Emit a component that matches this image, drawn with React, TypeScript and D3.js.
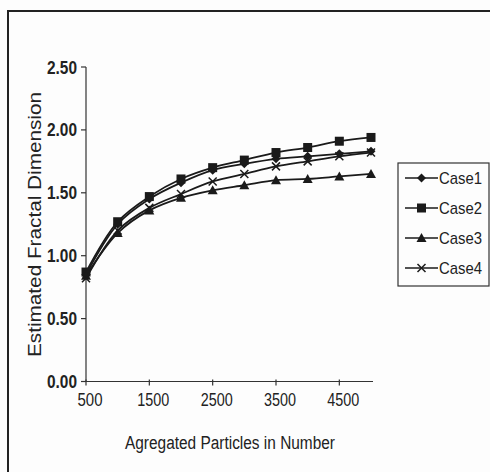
import React from "react";
import * as d3 from "d3";

const particles = [500, 1000, 1500, 2000, 2500, 3000, 3500, 4000, 4500, 5000];
const case1 = [0.85, 1.25, 1.45, 1.58, 1.68, 1.73, 1.77, 1.79, 1.81, 1.83];
const case2 = [0.87, 1.27, 1.47, 1.61, 1.70, 1.76, 1.82, 1.86, 1.91, 1.94];
const case3 = [0.84, 1.18, 1.36, 1.46, 1.52, 1.56, 1.60, 1.61, 1.63, 1.65];
const case4 = [0.82, 1.20, 1.38, 1.49, 1.59, 1.65, 1.71, 1.75, 1.79, 1.82];
const seriesNames = ["Case1", "Case2", "Case3", "Case4"];
const seriesValues = [case1, case2, case3, case4];
const xTicks = [500, 1500, 2500, 3500, 4500];
const yTicks = [0, 0.5, 1.0, 1.5, 2.0, 2.5];

const FONT = "'Liberation Sans Narrow', 'Liberation Sans', Arial, sans-serif";

function Marker({ kind, x, y }: { kind: number; x: number; y: number }) {
  const c = "#1a1a1a";
  if (kind === 0) {
    const s = 4.5;
    return <path d={`M${x},${y - s}L${x + s},${y}L${x},${y + s}L${x - s},${y}Z`} fill={c} />;
  }
  if (kind === 1) {
    const s = 4.5;
    return <rect x={x - s} y={y - s} width={2 * s} height={2 * s} fill={c} />;
  }
  if (kind === 2) {
    const s = 5;
    return <path d={`M${x},${y - s}L${x + s},${y + s * 0.8}L${x - s},${y + s * 0.8}Z`} fill={c} />;
  }
  const s = 4;
  return (
    <path d={`M${x - s},${y - s}L${x + s},${y + s}M${x + s},${y - s}L${x - s},${y + s}`} stroke={c} strokeWidth={1.5} fill="none" />
  );
}

export default function App() {
  const W = 490, H = 472;
  const x = d3.scaleLinear().domain([500, 5000]).range([86, 371]);
  const y = d3.scaleLinear().domain([0, 2.5]).range([381.5, 67]);
  const line = d3
    .line<number>()
    .x((_, i) => x(particles[i]))
    .y((d) => y(d))
    .curve(d3.curveCatmullRom.alpha(0.5));

  const legendY = [178, 208, 238, 268];

  return (
    <svg width={W} height={H} style={{ position: "absolute", left: 0, top: 0 }}>
      <rect x={0} y={0} width={W} height={H} fill="#fdfdfd" />
      <rect x={8} y={11} width={W + 10} height={H + 10} fill="none" stroke="#222" strokeWidth={2} />

      {/* y axis */}
      <line x1={x(500)} x2={x(500)} y1={y(2.5)} y2={y(0)} stroke="#333" strokeWidth={1.2} />
      {yTicks.map((t) => (
        <g key={t}>
          <line x1={x(500) - 5} x2={x(500)} y1={y(t)} y2={y(t)} stroke="#333" strokeWidth={1.2} />
          <text x={77} y={y(t) + 6.5} textAnchor="end" fontFamily={FONT} fontSize={19} fontWeight="bold"
            textLength={30} lengthAdjust="spacingAndGlyphs" fill="#222">
            {t.toFixed(2)}
          </text>
        </g>
      ))}

      {/* x axis */}
      <line x1={x(500)} x2={x(5000) + 2} y1={y(0)} y2={y(0)} stroke="#333" strokeWidth={1.2} />
      {xTicks.map((t) => (
        <g key={t}>
          <line x1={x(t)} x2={x(t)} y1={y(0) - 2} y2={y(0) + 4} stroke="#333" strokeWidth={1.2} />
          <text x={x(t) + 4} y={406} textAnchor="middle" fontFamily={FONT} fontSize={18}
            textLength={t < 1000 ? 25 : 32} lengthAdjust="spacingAndGlyphs" fill="#222">
            {t}
          </text>
        </g>
      ))}

      {/* axis titles */}
      <text x={230} y={449} textAnchor="middle" fontFamily={FONT} fontSize={18}
        textLength={210} lengthAdjust="spacingAndGlyphs" fill="#222">
        Agregated Particles in Number
      </text>
      <text transform="translate(41,224.5) rotate(-90)" textAnchor="middle" fontFamily="'Liberation Sans', Arial, sans-serif"
        fontSize={18} textLength={265} lengthAdjust="spacingAndGlyphs" fill="#222">
        Estimated Fractal Dimension
      </text>

      {/* series */}
      {seriesValues.map((vals, k) => (
        <g key={k}>
          <path d={line(vals) || ""} fill="none" stroke="#1a1a1a" strokeWidth={1.8} />
          {vals.map((v, i) => (
            <Marker key={i} kind={k} x={x(particles[i])} y={y(v)} />
          ))}
        </g>
      ))}

      {/* legend */}
      <rect x={398} y={163} width={91} height={123} fill="none" stroke="#333" strokeWidth={1.2} />
      {seriesNames.map((n, k) => (
        <g key={n}>
          <line x1={405} x2={438} y1={legendY[k]} y2={legendY[k]} stroke="#1a1a1a" strokeWidth={1.5} />
          <Marker kind={k} x={421.5} y={legendY[k]} />
          <text x={439} y={legendY[k] + 6} fontFamily={FONT} fontSize={17}
            textLength={43} lengthAdjust="spacingAndGlyphs" fill="#222">
            {n}
          </text>
        </g>
      ))}
    </svg>
  );
}
